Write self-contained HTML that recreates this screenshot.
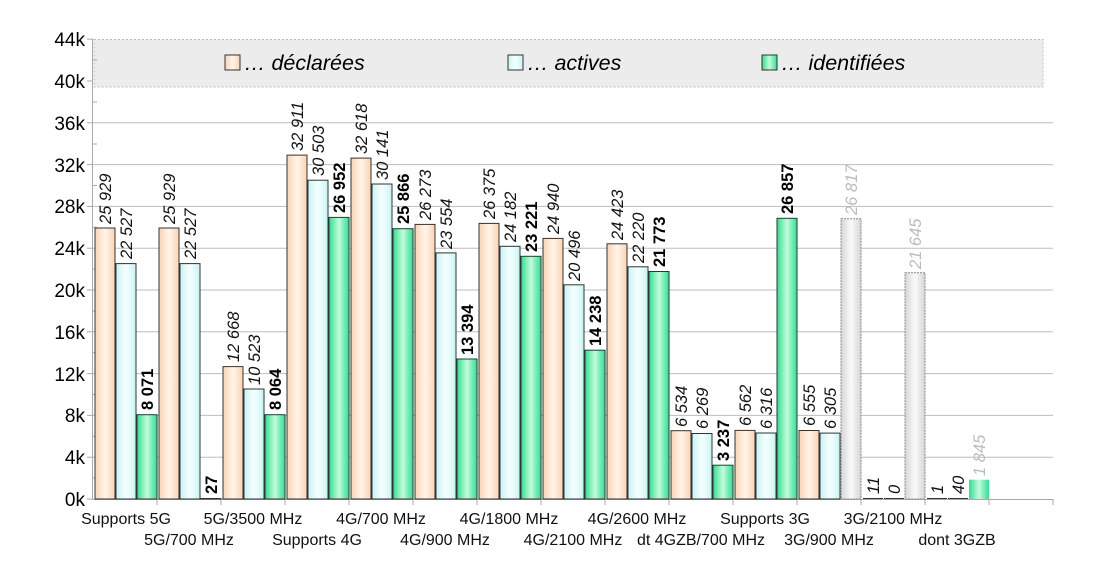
<!DOCTYPE html>
<html><head><meta charset="utf-8"><style>
html,body{margin:0;padding:0;background:#fff}
svg{display:block;font-family:"Liberation Sans",sans-serif}
.v{font-size:16.5px;font-style:italic;fill:#111}
.b{font-size:16.5px;font-weight:bold;fill:#000}
.g{font-size:16.5px;font-style:italic;fill:#bbb}
.yl{font-size:19px;fill:#000;text-anchor:end}
.xl{font-size:16px;fill:#111;text-anchor:middle}
</style></head><body>
<svg width="1093" height="565" viewBox="0 0 1093 565">
<defs>
<linearGradient id="o" x1="0" x2="1"><stop offset="0" stop-color="#fbd3b3"/><stop offset=".5" stop-color="#fff4ea"/><stop offset="1" stop-color="#fbd3b3"/></linearGradient>
<linearGradient id="c" x1="0" x2="1"><stop offset="0" stop-color="#c9f3f3"/><stop offset=".5" stop-color="#f6ffff"/><stop offset="1" stop-color="#c9f3f3"/></linearGradient>
<linearGradient id="n" x1="0" x2="1"><stop offset="0" stop-color="#2fe08f"/><stop offset=".5" stop-color="#c4fbde"/><stop offset="1" stop-color="#2fe08f"/></linearGradient>
<linearGradient id="s" x1="0" x2="1"><stop offset="0" stop-color="#d6d6d6"/><stop offset=".5" stop-color="#fafafa"/><stop offset="1" stop-color="#d6d6d6"/></linearGradient>
</defs>
<g stroke="#bdbdbd" stroke-width="1">
<line x1="93" x2="1053" y1="457.2" y2="457.2"/><line x1="93" x2="1053" y1="415.4" y2="415.4"/>
<line x1="93" x2="1053" y1="373.6" y2="373.6"/><line x1="93" x2="1053" y1="331.8" y2="331.8"/>
<line x1="93" x2="1053" y1="290" y2="290"/><line x1="93" x2="1053" y1="248.2" y2="248.2"/>
<line x1="93" x2="1053" y1="206.4" y2="206.4"/><line x1="93" x2="1053" y1="164.6" y2="164.6"/>
<line x1="93" x2="1053" y1="122.8" y2="122.8"/>
</g>
<rect x="94" y="39.5" width="949" height="47.5" fill="#ececec" stroke="#bbb" stroke-dasharray="2,2"/>
<rect x="225" y="55" width="15" height="15" fill="url(#o)" stroke="#333"/>
<text x="244" y="70" font-size="21.5" font-style="italic">… déclarées</text>
<rect x="508" y="55" width="15" height="15" fill="url(#c)" stroke="#333"/>
<text x="527" y="70" font-size="21.5" font-style="italic">… actives</text>
<rect x="762" y="55" width="15" height="15" fill="url(#n)" stroke="#333"/>
<text x="781" y="70" font-size="21.5" font-style="italic">… identifiées</text>
<g stroke="#aaa"><line x1="92.5" x2="92.5" y1="39" y2="499"/><line x1="92" x2="1053" y1="499.5" y2="499.5"/></g>
<g stroke="#aaa">
<line x1="87" x2="93" y1="39.2" y2="39.2"/><line x1="87" x2="93" y1="81" y2="81"/><line x1="87" x2="93" y1="122.8" y2="122.8"/><line x1="87" x2="93" y1="164.6" y2="164.6"/><line x1="87" x2="93" y1="206.4" y2="206.4"/><line x1="87" x2="93" y1="248.2" y2="248.2"/><line x1="87" x2="93" y1="290" y2="290"/><line x1="87" x2="93" y1="331.8" y2="331.8"/><line x1="87" x2="93" y1="373.6" y2="373.6"/><line x1="87" x2="93" y1="415.4" y2="415.4"/><line x1="87" x2="93" y1="457.2" y2="457.2"/><line x1="87" x2="93" y1="499" y2="499"/>
<line x1="93" x2="97" y1="60" y2="60"/><line x1="93" x2="97" y1="102" y2="102"/><line x1="93" x2="97" y1="144" y2="144"/><line x1="93" x2="97" y1="185.5" y2="185.5"/><line x1="93" x2="97" y1="227.3" y2="227.3"/><line x1="93" x2="97" y1="269.1" y2="269.1"/><line x1="93" x2="97" y1="311" y2="311"/><line x1="93" x2="97" y1="352.7" y2="352.7"/><line x1="93" x2="97" y1="394.5" y2="394.5"/><line x1="93" x2="97" y1="436.3" y2="436.3"/><line x1="93" x2="97" y1="478" y2="478"/>
<line x1="157" x2="157" y1="499" y2="505"/><line x1="221" x2="221" y1="499" y2="505"/><line x1="285" x2="285" y1="499" y2="505"/><line x1="349" x2="349" y1="499" y2="505"/><line x1="413" x2="413" y1="499" y2="505"/><line x1="477" x2="477" y1="499" y2="505"/><line x1="541" x2="541" y1="499" y2="505"/><line x1="605" x2="605" y1="499" y2="505"/><line x1="669" x2="669" y1="499" y2="505"/><line x1="733" x2="733" y1="499" y2="505"/><line x1="797" x2="797" y1="499" y2="505"/><line x1="861" x2="861" y1="499" y2="505"/><line x1="925" x2="925" y1="499" y2="505"/><line x1="989" x2="989" y1="499" y2="505"/><line x1="1053" x2="1053" y1="499" y2="505"/>
</g>
<text class="yl" x="85" y="46">44k</text><text class="yl" x="85" y="88">40k</text><text class="yl" x="85" y="130">36k</text><text class="yl" x="85" y="172">32k</text><text class="yl" x="85" y="213">28k</text><text class="yl" x="85" y="255">24k</text><text class="yl" x="85" y="297">20k</text><text class="yl" x="85" y="339">16k</text><text class="yl" x="85" y="381">12k</text><text class="yl" x="85" y="422">8k</text><text class="yl" x="85" y="464">4k</text><text class="yl" x="85" y="506">0k</text>
<g stroke="#333" stroke-width="1">
<rect x="95" y="228" width="20" height="271" fill="url(#o)"/><rect x="116" y="263.6" width="20" height="235.4" fill="url(#c)"/><rect x="137" y="414.7" width="20" height="84.3" fill="url(#n)"/>
<rect x="159" y="228" width="20" height="271" fill="url(#o)"/><rect x="180" y="263.6" width="20" height="235.4" fill="url(#c)"/><rect x="201" y="498.5" width="20" height="0.5" fill="url(#n)"/>
<rect x="223" y="366.6" width="20" height="132.4" fill="url(#o)"/><rect x="244" y="389" width="20" height="110" fill="url(#c)"/><rect x="265" y="414.7" width="20" height="84.3" fill="url(#n)"/>
<rect x="287" y="155.1" width="20" height="343.9" fill="url(#o)"/><rect x="308" y="180.2" width="20" height="318.8" fill="url(#c)"/><rect x="329" y="217.4" width="20" height="281.6" fill="url(#n)"/>
<rect x="351" y="158.1" width="20" height="340.9" fill="url(#o)"/><rect x="372" y="184" width="20" height="315" fill="url(#c)"/><rect x="393" y="228.7" width="20" height="270.3" fill="url(#n)"/>
<rect x="415" y="224.4" width="20" height="274.6" fill="url(#o)"/><rect x="436" y="252.9" width="20" height="246.1" fill="url(#c)"/><rect x="457" y="359" width="20" height="140" fill="url(#n)"/>
<rect x="479" y="223.4" width="20" height="275.6" fill="url(#o)"/><rect x="500" y="246.3" width="20" height="252.7" fill="url(#c)"/><rect x="521" y="256.3" width="20" height="242.7" fill="url(#n)"/>
<rect x="543" y="238.4" width="20" height="260.6" fill="url(#o)"/><rect x="564" y="284.8" width="20" height="214.2" fill="url(#c)"/><rect x="585" y="350.2" width="20" height="148.8" fill="url(#n)"/>
<rect x="607" y="243.8" width="20" height="255.2" fill="url(#o)"/><rect x="628" y="266.8" width="20" height="232.2" fill="url(#c)"/><rect x="649" y="271.5" width="20" height="227.5" fill="url(#n)"/>
<rect x="671" y="430.7" width="20" height="68.3" fill="url(#o)"/><rect x="692" y="433.5" width="20" height="65.5" fill="url(#c)"/><rect x="713" y="465.2" width="20" height="33.8" fill="url(#n)"/>
<rect x="735" y="430.4" width="20" height="68.6" fill="url(#o)"/><rect x="756" y="433" width="20" height="66" fill="url(#c)"/><rect x="777" y="218.3" width="20" height="280.7" fill="url(#n)"/>
<rect x="799" y="430.5" width="20" height="68.5" fill="url(#o)"/><rect x="820" y="433.1" width="20" height="65.9" fill="url(#c)"/>
<line x1="863" x2="883" y1="498.5" y2="498.5"/><line x1="884" x2="904" y1="498.5" y2="498.5"/>
<line x1="927" x2="947" y1="498.5" y2="498.5"/><line x1="948" x2="968" y1="498.5" y2="498.5"/>
</g>
<rect x="841" y="218.8" width="20" height="280.2" fill="url(#s)" stroke="#888" stroke-dasharray="2,1"/>
<rect x="905" y="272.8" width="20" height="226.2" fill="url(#s)" stroke="#888" stroke-dasharray="2,1"/>
<rect x="969" y="479.7" width="20" height="19.3" fill="url(#n)"/>
<text class="v" transform="translate(111,224) rotate(-90)">25 929</text>
<text class="v" transform="translate(132,259) rotate(-90)">22 527</text>
<text class="b" transform="translate(153,410) rotate(-90)">8 071</text>
<text class="v" transform="translate(175,224) rotate(-90)">25 929</text>
<text class="v" transform="translate(196,259) rotate(-90)">22 527</text>
<text class="b" transform="translate(217,494) rotate(-90)">27</text>
<text class="v" transform="translate(239,362) rotate(-90)">12 668</text>
<text class="v" transform="translate(260,385) rotate(-90)">10 523</text>
<text class="b" transform="translate(281,410) rotate(-90)">8 064</text>
<text class="v" transform="translate(303,151) rotate(-90)">32 911</text>
<text class="v" transform="translate(324,176) rotate(-90)">30 503</text>
<text class="b" transform="translate(345,213) rotate(-90)">26 952</text>
<text class="v" transform="translate(367,154) rotate(-90)">32 618</text>
<text class="v" transform="translate(388,180) rotate(-90)">30 141</text>
<text class="b" transform="translate(409,224) rotate(-90)">25 866</text>
<text class="v" transform="translate(431,220) rotate(-90)">26 273</text>
<text class="v" transform="translate(452,249) rotate(-90)">23 554</text>
<text class="b" transform="translate(473,355) rotate(-90)">13 394</text>
<text class="v" transform="translate(495,219) rotate(-90)">26 375</text>
<text class="v" transform="translate(516,242) rotate(-90)">24 182</text>
<text class="b" transform="translate(537,252) rotate(-90)">23 221</text>
<text class="v" transform="translate(559,234) rotate(-90)">24 940</text>
<text class="v" transform="translate(580,281) rotate(-90)">20 496</text>
<text class="b" transform="translate(601,346) rotate(-90)">14 238</text>
<text class="v" transform="translate(623,240) rotate(-90)">24 423</text>
<text class="v" transform="translate(644,263) rotate(-90)">22 220</text>
<text class="b" transform="translate(665,267) rotate(-90)">21 773</text>
<text class="v" transform="translate(687,427) rotate(-90)">6 534</text>
<text class="v" transform="translate(708,429) rotate(-90)">6 269</text>
<text class="b" transform="translate(729,461) rotate(-90)">3 237</text>
<text class="v" transform="translate(751,426) rotate(-90)">6 562</text>
<text class="v" transform="translate(772,429) rotate(-90)">6 316</text>
<text class="b" transform="translate(793,214) rotate(-90)">26 857</text>
<text class="v" transform="translate(815,426) rotate(-90)">6 555</text>
<text class="v" transform="translate(836,429) rotate(-90)">6 305</text>
<text class="g" transform="translate(857,215) rotate(-90)">26 817</text>
<text class="v" transform="translate(879,494) rotate(-90)">11</text>
<text class="v" transform="translate(900,494) rotate(-90)">0</text>
<text class="g" transform="translate(921,269) rotate(-90)">21 645</text>
<text class="v" transform="translate(943,494) rotate(-90)">1</text>
<text class="v" transform="translate(964,494) rotate(-90)">40</text>
<text class="g" transform="translate(985,476) rotate(-90)">1 845</text>
<text class="xl" x="126" y="524">Supports 5G</text>
<text class="xl" x="189" y="545">5G/700 MHz</text>
<text class="xl" x="253" y="524">5G/3500 MHz</text>
<text class="xl" x="317" y="545">Supports 4G</text>
<text class="xl" x="381" y="524">4G/700 MHz</text>
<text class="xl" x="445" y="545">4G/900 MHz</text>
<text class="xl" x="509" y="524">4G/1800 MHz</text>
<text class="xl" x="573" y="545">4G/2100 MHz</text>
<text class="xl" x="637" y="524">4G/2600 MHz</text>
<text class="xl" x="701" y="545">dt 4GZB/700 MHz</text>
<text class="xl" x="765" y="524">Supports 3G</text>
<text class="xl" x="829" y="545">3G/900 MHz</text>
<text class="xl" x="893" y="524">3G/2100 MHz</text>
<text class="xl" x="957" y="545">dont 3GZB</text>
</svg>
</body></html>
